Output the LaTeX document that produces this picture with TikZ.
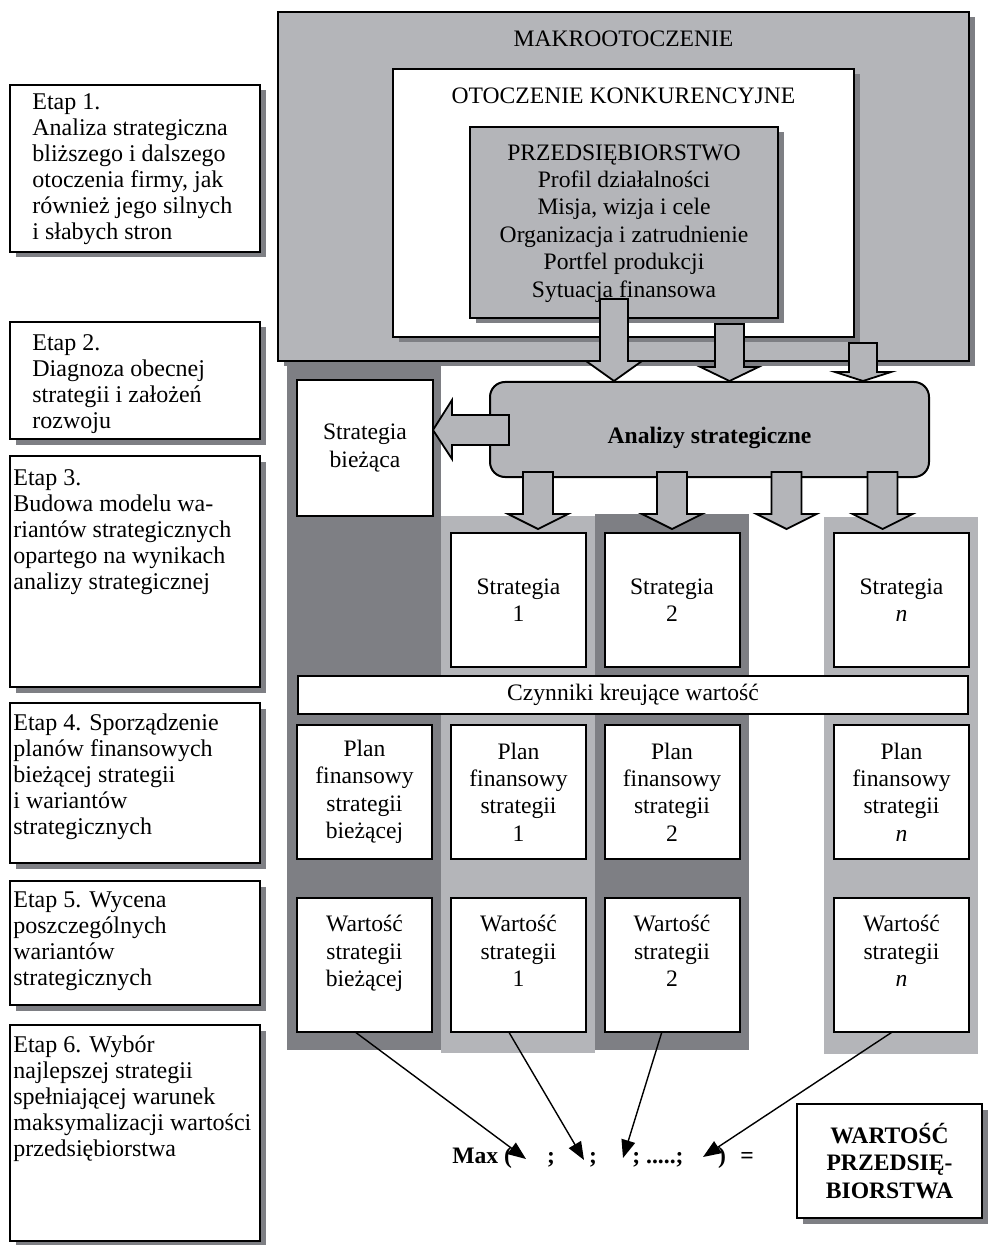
\documentclass[tikz,border=0pt]{standalone}
\usepackage{fontspec}
\setmainfont{Liberation Serif}
\usepackage{tikz}
\usetikzlibrary{arrows.meta,shadows,positioning}

\definecolor{lgray}{RGB}{180,181,185}
\definecolor{dgray}{RGB}{126,127,132}
\newcommand{\boxfont}{\fontsize{11.8pt}{13.7pt}\selectfont}
\newcommand{\etapfont}{\fontsize{12pt}{13pt}\selectfont}
% block arrow pointing down: x, top, head base, tip, half shaft
\newcommand{\blockdown}[5]{%
	\draw[grayarrow] ({#1-#5},#2) -- ({#1+#5},#2) -- ({#1+#5},#3) -- ({#1+2*#5},#3)
	-- (#1,#4) -- ({#1-2*#5},#3) -- ({#1-#5},#3) -- cycle;}

\begin{document}
\begin{tikzpicture}[x=0.5pt,y=-0.5pt,
		shadowed/.style={drop shadow={shadow xshift=2.75pt,shadow yshift=-2.75pt,opacity=1,fill=dgray}},
		envbox/.style={draw, line width=1pt, inner sep=0pt, outer sep=0pt, anchor=north west, shadowed},
		etapbox/.style={envbox, fill=white, minimum width=125pt},
		etaptext/.style={anchor=north west, align=left, inner sep=0pt, font=\etapfont},
		gbox/.style={draw, line width=1pt, fill=white, inner sep=0pt, outer sep=0pt, align=center, font=\boxfont},
		sbox/.style={gbox, minimum width=67.5pt, minimum height=67pt},
		grayarrow/.style={draw, line width=0.9pt, fill=lgray, line join=miter},
		maxarrow/.style={-{Triangle[length=9pt,width=7pt]}, line width=0.7pt},
		maxtext/.style={anchor=base, inner sep=0pt, font=\boxfont\bfseries}
	]
	\useasboundingbox (0,0) rectangle (987,1245);
	
	% columns behind the strategies
	\fill[dgray] (287,361) rectangle (441,1050);
	\fill[lgray] (441,516) rectangle (595,1053);
	\fill[dgray] (595,514) rectangle (749,1050);
	\fill[lgray] (824,517) rectangle (978,1054);
	
	% stages
	\node[etapbox, minimum height=83.5pt] (e1) at (10,85) {};
	\node[etapbox, minimum height=58.5pt] (e2) at (10,322) {};
	\node[etapbox, minimum height=115.5pt] (e3) at (10,456) {};
	\node[etapbox, minimum height=80pt] (e4) at (10,703) {};
	\node[etapbox, minimum height=62pt] (e5) at (10,881) {};
	\node[etapbox, minimum height=108pt] (e6) at (10,1025) {};
	
	\node[etaptext] (e1t) at ([xshift=11pt,yshift=-4pt]e1.north west) {Etap 1.\\Analiza strategiczna\\bliższego i dalszego\\otoczenia firmy, jak\\również jego silnych\\i słabych stron};
	\node[etaptext] (e2t) at ([xshift=11pt,yshift=-6pt]e2.north west) {Etap 2.\\Diagnoza obecnej\\strategii i założeń\\rozwoju};
	\node[etaptext] (e3t) at ([xshift=1.5pt,yshift=-6.5pt]e3.north west) {Etap 3.\\Budowa modelu wa-\\riantów strategicznych\\opartego na wynikach\\analizy strategicznej};
	\node[etaptext] (e4t) at ([xshift=1.5pt,yshift=-5pt]e4.north west) {Etap 4. Sporządzenie\\planów finansowych\\bieżącej strategii\\i wariantów\\strategicznych};
	\node[etaptext] (e5t) at ([xshift=1.5pt,yshift=-5pt]e5.north west) {Etap 5. Wycena\\poszczególnych\\wariantów\\strategicznych};
	\node[etaptext] (e6t) at ([xshift=1.5pt,yshift=-5pt]e6.north west) {Etap 6. Wybór\\najlepszej strategii\\spełniającej warunek\\maksymalizacji wartości\\przedsiębiorstwa};
	
	% environment
	\node[envbox, fill=lgray, minimum width=345.5pt, minimum height=174.5pt] (makro) at (278,12) {};
	\node[anchor=base, font=\boxfont] (makrot) at (623.5,47) {MAKROOTOCZENIE};
	\node[envbox, fill=white, minimum width=230.5pt, minimum height=134pt] (otocz) at (393,69) {};
	\node[anchor=base, font=\boxfont] (otoczt) at (623.5,104) {OTOCZENIE KONKURENCYJNE};
	\node[envbox, fill=lgray, minimum width=154pt, minimum height=95.5pt] (przed) at (470,127) {};
	\node[anchor=north, align=center, inner sep=0pt, font=\boxfont] (przedt) at (624,144) {PRZEDSIĘBIORSTWO\\Profil działalności\\Misja, wizja i cele\\Organizacja i zatrudnienie\\Portfel produkcji\\Sytuacja finansowa};
	
	\blockdown{614}{299}{361}{381}{14}
	\blockdown{729.5}{324}{367}{381}{14.5}
	\blockdown{863}{343}{372}{381}{14}
	
	% analyses
	\node[draw, line width=1pt, fill=lgray, rounded corners=7.5pt, minimum width=219.5pt, minimum height=47.5pt] (anal) at (709.5,429.5) {};
	\node[font=\boxfont\bfseries] (analt) at ([yshift=-4pt]anal.center) {Analizy strategiczne};
	\draw[grayarrow] (509,415) -- (452,415) -- (452,400) -- (433,430) -- (452,459) -- (452,445) -- (509,445) -- cycle;
	\blockdown{538}{472}{514}{529}{15}
	\blockdown{672}{472}{514}{529}{15}
	\blockdown{786.5}{472}{514}{529}{15}
	\blockdown{882.5}{472}{514}{529}{15}
	
	\node[gbox, minimum width=68pt, minimum height=68pt] (sb) at (365,448) {Strategia\\bieżąca};
	\node[sbox] (s1) at (518.5,600) {Strategia\\1};
	\node[sbox] (s2) at (672,600) {Strategia\\2};
	\node[sbox] (sn) at (901.5,600) {Strategia\\\textit{n}};
	
	\node[gbox, minimum width=335pt, minimum height=19pt] (czyn) at (633,695) {Czynniki kreujące wartość};
	
	\node[sbox] (p0) at (364.5,792) {Plan\\finansowy\\strategii\\bieżącej};
	\node[sbox] (p1) at (518.5,792) {Plan\\finansowy\\strategii\\1};
	\node[sbox] (p2) at (672,792) {Plan\\finansowy\\strategii\\2};
	\node[sbox] (pn) at (901.5,792) {Plan\\finansowy\\strategii\\\textit{n}};
	
	\node[sbox] (w0) at (364.5,964.5) {Wartość\\strategii\\bieżącej\\\mbox{}};
	\node[sbox] (w1) at (518.5,964.5) {Wartość\\strategii\\1\\\mbox{}};
	\node[sbox] (w2) at (672,964.5) {Wartość\\strategii\\2\\\mbox{}};
	\node[sbox] (wn) at (901.5,964.5) {Wartość\\strategii\\\textit{n}\\\mbox{}};
	
	% maximum of the values
	\node[maxtext, anchor=base west] (mx) at (452,1163) {Max (};
	\node[maxtext] (sc1) at (551,1163) {;};
	\node[maxtext] (sc2) at (593,1163) {;};
	\node[maxtext, anchor=base west] (sc3) at (632,1163) {; .....;};
	\node[maxtext] (cl) at (722,1163) {)};
	\node[maxtext] (eq) at (747,1163) {=};
	\coordinate (t1) at (526,1159);
	\coordinate (t2) at (584,1160);
	\coordinate (t3) at (623,1158);
	\coordinate (t4) at (703,1157);
	
	\draw[maxarrow] ([xshift=-5pt]w0.south) -- (t1);
	\draw[maxarrow] ([xshift=-5pt]w1.south) -- (t2);
	\draw[maxarrow] ([xshift=-5pt]w2.south) -- (t3);
	\draw[maxarrow] ([xshift=-4.25pt]wn.south) -- (t4);
	
	\node[gbox, shadowed, font=\boxfont\bfseries, minimum width=92.5pt, minimum height=57pt] (wp) at (889.5,1161) {WARTOŚĆ\\PRZEDSIĘ-\\BIORSTWA};
\end{tikzpicture}
\end{document}
